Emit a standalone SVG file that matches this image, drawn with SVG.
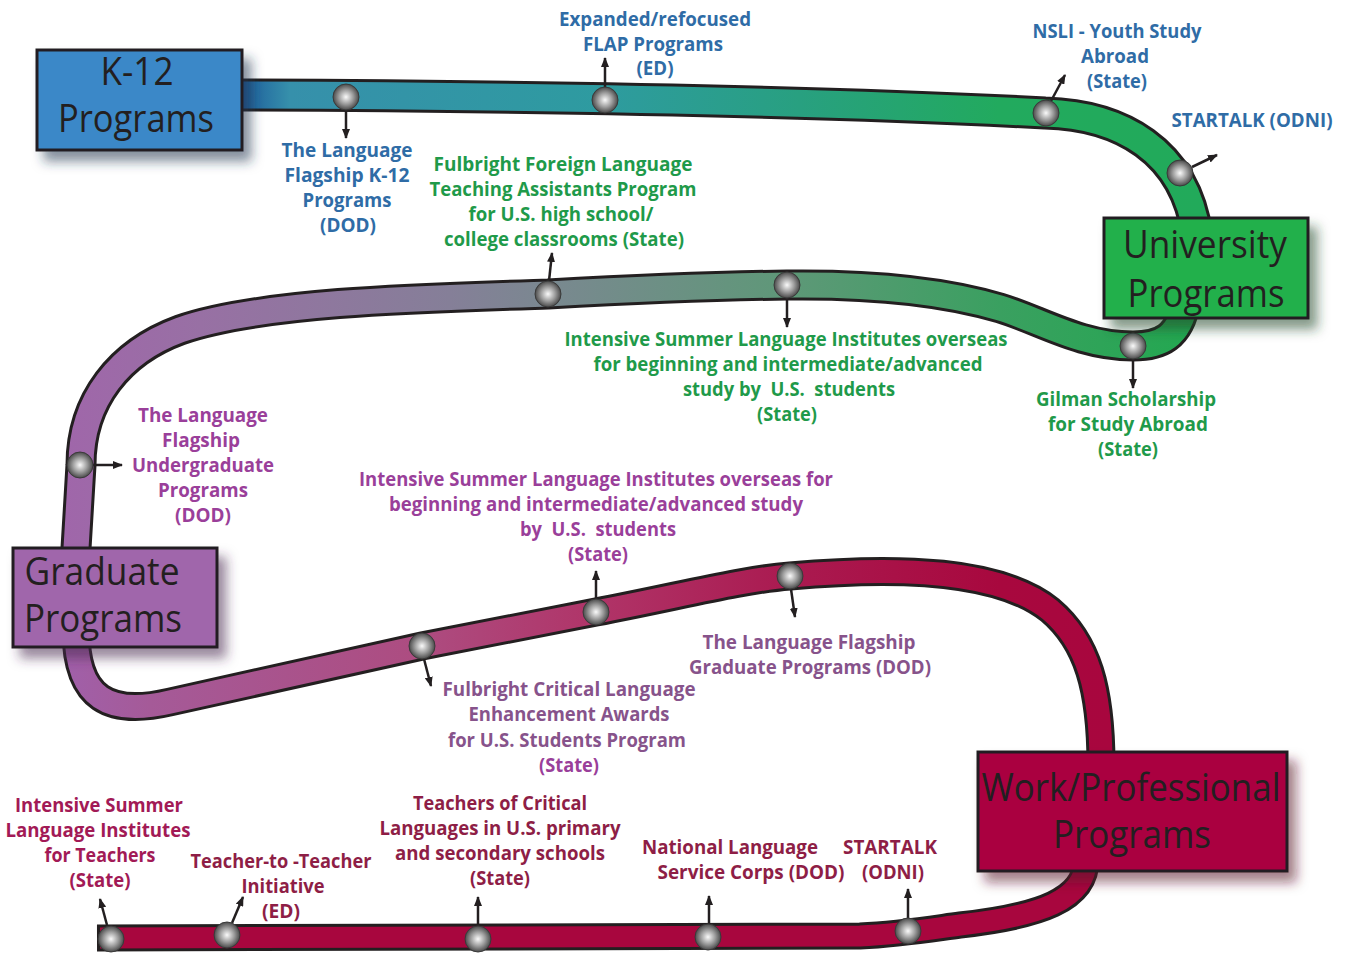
<svg xmlns="http://www.w3.org/2000/svg" width="1345" height="954" viewBox="0 0 1345 954">
<style>
.box{stroke:#231f20;stroke-width:3}
.bt{font-family:"Open Sans","Noto Sans",sans-serif;font-size:38px;fill:#231f20;text-anchor:middle}
.lb{font-family:"Open Sans","Noto Sans",sans-serif;font-size:19px;font-weight:700;text-anchor:middle}
.blue{fill:#2f6ca6}.green{fill:#1f9a4a}.purple{fill:#9a3f9a}.mauve{fill:#87538b}.crim{fill:#a21a56}.crim2{fill:#8e1e46}
.edge{fill:none;stroke:#231f20}
.band{fill:none}
.arr{stroke:#231f20;stroke-width:2.5;fill:none;marker-end:url(#ah)}
.ball{fill:url(#bg);stroke:#3a3a3a;stroke-width:1}
</style>
<defs>
<marker id="ah" markerUnits="userSpaceOnUse" markerWidth="10" markerHeight="8" refX="9" refY="4" orient="auto" viewBox="0 0 10 8"><path d="M0,0 L10,4 L0,8 z" fill="#231f20"/></marker>
<radialGradient id="bg" cx="50%" cy="50%" r="50%"><stop offset="0" stop-color="#fafafa"/><stop offset="0.55" stop-color="#9d9d9d"/><stop offset="1" stop-color="#4a4a4a"/></radialGradient>
<linearGradient id="g1" gradientUnits="userSpaceOnUse" x1="242" y1="0" x2="1200" y2="0">
<stop offset="0" stop-color="#1d5c9c"/><stop offset="0.05" stop-color="#3690ab"/><stop offset="0.374" stop-color="#2e9ba0"/><stop offset="0.582" stop-color="#28a080"/><stop offset="0.79" stop-color="#22aa5e"/><stop offset="1" stop-color="#22aa5a"/></linearGradient>
<linearGradient id="g2" gradientUnits="userSpaceOnUse" x1="60" y1="0" x2="1200" y2="0">
<stop offset="0" stop-color="#a066aa"/><stop offset="0.123" stop-color="#9870a4"/><stop offset="0.342" stop-color="#857f98"/><stop offset="0.428" stop-color="#7a8890"/><stop offset="0.638" stop-color="#5e9878"/><stop offset="0.825" stop-color="#3aa060"/><stop offset="1" stop-color="#22a850"/></linearGradient>
<linearGradient id="g3" gradientUnits="userSpaceOnUse" x1="60" y1="0" x2="1110" y2="0">
<stop offset="0" stop-color="#a060aa"/><stop offset="0.086" stop-color="#a55a98"/><stop offset="0.345" stop-color="#ad4c80"/><stop offset="0.51" stop-color="#b03468"/><stop offset="0.695" stop-color="#aa1a50"/><stop offset="0.895" stop-color="#a8083e"/><stop offset="1" stop-color="#a8063e"/></linearGradient>
<filter id="s1" x="-20%" y="-20%" width="150%" height="160%"><feDropShadow dx="8" dy="10" stdDeviation="6" flood-color="#1b3550" flood-opacity="0.55"/></filter>
<filter id="s2" x="-20%" y="-20%" width="150%" height="160%"><feDropShadow dx="8" dy="10" stdDeviation="6" flood-color="#1a4a25" flood-opacity="0.55"/></filter>
<filter id="s3" x="-20%" y="-20%" width="150%" height="160%"><feDropShadow dx="8" dy="10" stdDeviation="6" flood-color="#4a2a50" flood-opacity="0.55"/></filter>
<filter id="s4" x="-20%" y="-20%" width="150%" height="160%"><feDropShadow dx="8" dy="10" stdDeviation="6" flood-color="#5a0a25" flood-opacity="0.55"/></filter>
</defs>
<rect width="1345" height="954" fill="#ffffff"/>

<g id="connectors">
<path class="edge" stroke-width="33" d="M230 95 C500 96 800 100 1045 113 C1120 115 1185 150 1197 235"/>
<path class="band" stroke-width="27" stroke="url(#g1)" d="M230 95 C500 96 800 100 1045 113 C1120 115 1185 150 1197 235"/>
<path class="edge" stroke-width="31" d="M1186 300 C1180 338 1160 346 1133 346 C1080 346 1040 320 1000 308 C940 290 870 284 787 285 C700 286 620 290 548 294 C420 298 260 302 180 330 C120 352 81 400 81 465 L75 565"/>
<path class="band" stroke-width="25" stroke="url(#g2)" d="M1186 300 C1180 338 1160 346 1133 346 C1080 346 1040 320 1000 308 C940 290 870 284 787 285 C700 286 620 290 548 294 C420 298 260 302 180 330 C120 352 81 400 81 465 L75 565"/>
<path class="edge" stroke-width="29" d="M76 630 C76 700 110 716 170 702 L422 646 L596 612 C680 596 740 580 790 576 C900 566 1000 570 1050 610 C1088 642 1101 690 1101 765"/>
<path class="band" stroke-width="23" stroke="url(#g3)" d="M76 630 C76 700 110 716 170 702 L422 646 L596 612 C680 596 740 580 790 576 C900 566 1000 570 1050 610 C1088 642 1101 690 1101 765"/>
<path class="edge" stroke-width="27" d="M1086 860 C1086 900 1040 916 960 925 C930 929 900 934 860 936 L97 938"/>
<path class="band" stroke-width="21" stroke="#a8063e" d="M1086 860 C1086 900 1040 916 960 925 C930 929 900 934 860 936 L100 938"/>

<line class="arr" x1="346" y1="110" x2="346" y2="138"/>
<line class="arr" x1="605" y1="87" x2="605" y2="58"/>
<line class="arr" x1="1051" y1="101" x2="1065" y2="75"/>
<line class="arr" x1="1192" y1="167" x2="1217" y2="155"/>
<line class="arr" x1="549" y1="281" x2="552" y2="253"/>
<line class="arr" x1="787" y1="298" x2="787" y2="327"/>
<line class="arr" x1="1133" y1="359" x2="1133" y2="388"/>
<line class="arr" x1="93" y1="465" x2="122" y2="465"/>
<line class="arr" x1="596" y1="599" x2="596" y2="571"/>
<line class="arr" x1="791" y1="589" x2="795" y2="617"/>
<line class="arr" x1="424" y1="659" x2="431" y2="686"/>
<line class="arr" x1="107" y1="925" x2="100" y2="899"/>
<line class="arr" x1="232" y1="923" x2="243" y2="897"/>
<line class="arr" x1="478" y1="925" x2="478" y2="897"/>
<line class="arr" x1="709" y1="925" x2="709" y2="896"/>
<line class="arr" x1="908" y1="918" x2="908" y2="889"/>

<circle class="ball" cx="346" cy="97" r="13"/>
<circle class="ball" cx="605" cy="100" r="13"/>
<circle class="ball" cx="1046" cy="113" r="13"/>
<circle class="ball" cx="1180" cy="173" r="13"/>
<circle class="ball" cx="548" cy="294" r="13"/>
<circle class="ball" cx="787" cy="285" r="13"/>
<circle class="ball" cx="1133" cy="346" r="13"/>
<circle class="ball" cx="80" cy="465" r="13"/>
<circle class="ball" cx="596" cy="612" r="13"/>
<circle class="ball" cx="790" cy="576" r="13"/>
<circle class="ball" cx="422" cy="646" r="13"/>
<circle class="ball" cx="111" cy="939" r="13"/>
<circle class="ball" cx="227" cy="935" r="13"/>
<circle class="ball" cx="478" cy="939" r="13"/>
<circle class="ball" cx="708" cy="937" r="13"/>
<circle class="ball" cx="908" cy="931" r="13"/>
</g>

<g id="k12">
<rect class="box" x="37" y="50" width="205" height="100" fill="#3a88c8" filter="url(#s1)"/>
<text class="bt" x="137" y="85" textLength="73" lengthAdjust="spacingAndGlyphs">K-12</text>
<text class="bt" x="136" y="132" textLength="156" lengthAdjust="spacingAndGlyphs">Programs</text>
</g>
<g id="university">
<rect class="box" x="1104" y="218" width="204" height="100" fill="#23b04b" filter="url(#s2)"/>
<text class="bt" x="1205" y="258" textLength="164" lengthAdjust="spacingAndGlyphs">University</text>
<text class="bt" x="1206" y="307" textLength="157" lengthAdjust="spacingAndGlyphs">Programs</text>
</g>
<g id="graduate">
<rect class="box" x="13" y="548" width="204" height="99" fill="#a066ab" filter="url(#s3)"/>
<text class="bt" x="102" y="585" textLength="155" lengthAdjust="spacingAndGlyphs">Graduate</text>
<text class="bt" x="103" y="632" textLength="158" lengthAdjust="spacingAndGlyphs">Programs</text>
</g>
<g id="work">
<rect class="box" x="978" y="752" width="309" height="119" fill="#aa0440" filter="url(#s4)"/>
<text class="bt" x="1131" y="801" textLength="299" lengthAdjust="spacingAndGlyphs">Work/Professional</text>
<text class="bt" x="1132" y="848" textLength="158" lengthAdjust="spacingAndGlyphs">Programs</text>
</g>

<g id="labels-k12">
<text class="lb blue" x="655" y="26" textLength="192" lengthAdjust="spacingAndGlyphs">Expanded/refocused</text>
<text class="lb blue" x="653" y="51" textLength="140" lengthAdjust="spacingAndGlyphs">FLAP Programs</text>
<text class="lb blue" x="655" y="75" textLength="37" lengthAdjust="spacingAndGlyphs">(ED)</text>
<text class="lb blue" x="1117" y="38" textLength="169" lengthAdjust="spacingAndGlyphs">NSLI - Youth Study</text>
<text class="lb blue" x="1115" y="63" textLength="68" lengthAdjust="spacingAndGlyphs">Abroad</text>
<text class="lb blue" x="1117" y="88" textLength="60" lengthAdjust="spacingAndGlyphs">(State)</text>
<text class="lb blue" x="1252" y="127" textLength="161" lengthAdjust="spacingAndGlyphs">STARTALK (ODNI)</text>
<text class="lb blue" x="347" y="157" textLength="131" lengthAdjust="spacingAndGlyphs">The Language</text>
<text class="lb blue" x="347" y="182" textLength="125" lengthAdjust="spacingAndGlyphs">Flagship K-12</text>
<text class="lb blue" x="347" y="207" textLength="89" lengthAdjust="spacingAndGlyphs">Programs</text>
<text class="lb blue" x="348" y="232" textLength="56" lengthAdjust="spacingAndGlyphs">(DOD)</text>
</g>
<g id="labels-university">
<text class="lb green" x="563" y="171" textLength="259" lengthAdjust="spacingAndGlyphs">Fulbright Foreign Language</text>
<text class="lb green" x="563" y="196" textLength="267" lengthAdjust="spacingAndGlyphs">Teaching Assistants Program</text>
<text class="lb green" x="561" y="221" textLength="185" lengthAdjust="spacingAndGlyphs">for U.S. high school/</text>
<text class="lb green" x="564" y="246" textLength="240" lengthAdjust="spacingAndGlyphs">college classrooms (State)</text>
<text class="lb green" x="786" y="346" textLength="443" lengthAdjust="spacingAndGlyphs">Intensive Summer Language Institutes overseas</text>
<text class="lb green" x="788" y="371" textLength="389" lengthAdjust="spacingAndGlyphs">for beginning and intermediate/advanced</text>
<text class="lb green" x="789" y="396" textLength="212" lengthAdjust="spacingAndGlyphs" xml:space="preserve">study by  U.S.  students</text>
<text class="lb green" x="787" y="421" textLength="60" lengthAdjust="spacingAndGlyphs">(State)</text>
<text class="lb green" x="1126" y="406" textLength="180" lengthAdjust="spacingAndGlyphs">Gilman Scholarship</text>
<text class="lb green" x="1128" y="431" textLength="160" lengthAdjust="spacingAndGlyphs">for Study Abroad</text>
<text class="lb green" x="1128" y="456" textLength="60" lengthAdjust="spacingAndGlyphs">(State)</text>
</g>
<g id="labels-graduate">
<text class="lb purple" x="203" y="422" textLength="130" lengthAdjust="spacingAndGlyphs">The Language</text>
<text class="lb purple" x="201" y="447" textLength="78" lengthAdjust="spacingAndGlyphs">Flagship</text>
<text class="lb purple" x="203" y="472" textLength="142" lengthAdjust="spacingAndGlyphs">Undergraduate</text>
<text class="lb purple" x="203" y="497" textLength="90" lengthAdjust="spacingAndGlyphs">Programs</text>
<text class="lb purple" x="203" y="522" textLength="56" lengthAdjust="spacingAndGlyphs">(DOD)</text>
<text class="lb purple" x="596" y="486" textLength="474" lengthAdjust="spacingAndGlyphs">Intensive Summer Language Institutes overseas for</text>
<text class="lb purple" x="596" y="511" textLength="414" lengthAdjust="spacingAndGlyphs">beginning and intermediate/advanced study</text>
<text class="lb purple" x="598" y="536" textLength="156" lengthAdjust="spacingAndGlyphs" xml:space="preserve">by  U.S.  students</text>
<text class="lb purple" x="598" y="561" textLength="60" lengthAdjust="spacingAndGlyphs">(State)</text>
<text class="lb mauve" x="809" y="649" textLength="213" lengthAdjust="spacingAndGlyphs">The Language Flagship</text>
<text class="lb mauve" x="810" y="674" textLength="242" lengthAdjust="spacingAndGlyphs">Graduate Programs (DOD)</text>
<text class="lb mauve" x="569" y="696" textLength="253" lengthAdjust="spacingAndGlyphs">Fulbright Critical Language</text>
<text class="lb mauve" x="569" y="721" textLength="201" lengthAdjust="spacingAndGlyphs">Enhancement Awards</text>
<text class="lb mauve" x="567" y="747" textLength="238" lengthAdjust="spacingAndGlyphs">for U.S. Students Program</text>
<text class="lb purple" x="569" y="772" textLength="60" lengthAdjust="spacingAndGlyphs">(State)</text>
</g>
<g id="labels-work">
<text class="lb crim" x="99" y="812" textLength="168" lengthAdjust="spacingAndGlyphs">Intensive Summer</text>
<text class="lb crim" x="98" y="837" textLength="185" lengthAdjust="spacingAndGlyphs">Language Institutes</text>
<text class="lb crim" x="100" y="862" textLength="111" lengthAdjust="spacingAndGlyphs">for Teachers</text>
<text class="lb crim" x="100" y="887" textLength="61" lengthAdjust="spacingAndGlyphs">(State)</text>
<text class="lb crim2" x="281" y="868" textLength="181" lengthAdjust="spacingAndGlyphs">Teacher-to -Teacher</text>
<text class="lb crim2" x="283" y="893" textLength="83" lengthAdjust="spacingAndGlyphs">Initiative</text>
<text class="lb crim2" x="281" y="918" textLength="38" lengthAdjust="spacingAndGlyphs">(ED)</text>
<text class="lb crim2" x="500" y="810" textLength="174" lengthAdjust="spacingAndGlyphs">Teachers of Critical</text>
<text class="lb crim2" x="500" y="835" textLength="241" lengthAdjust="spacingAndGlyphs">Languages in U.S. primary</text>
<text class="lb crim2" x="500" y="860" textLength="210" lengthAdjust="spacingAndGlyphs">and secondary schools</text>
<text class="lb crim2" x="500" y="885" textLength="60" lengthAdjust="spacingAndGlyphs">(State)</text>
<text class="lb crim2" x="730" y="854" textLength="176" lengthAdjust="spacingAndGlyphs">National Language</text>
<text class="lb crim2" x="751" y="879" textLength="187" lengthAdjust="spacingAndGlyphs">Service Corps (DOD)</text>
<text class="lb crim2" x="890" y="854" textLength="94" lengthAdjust="spacingAndGlyphs">STARTALK</text>
<text class="lb crim2" x="893" y="879" textLength="62" lengthAdjust="spacingAndGlyphs">(ODNI)</text>
</g>
</svg>
